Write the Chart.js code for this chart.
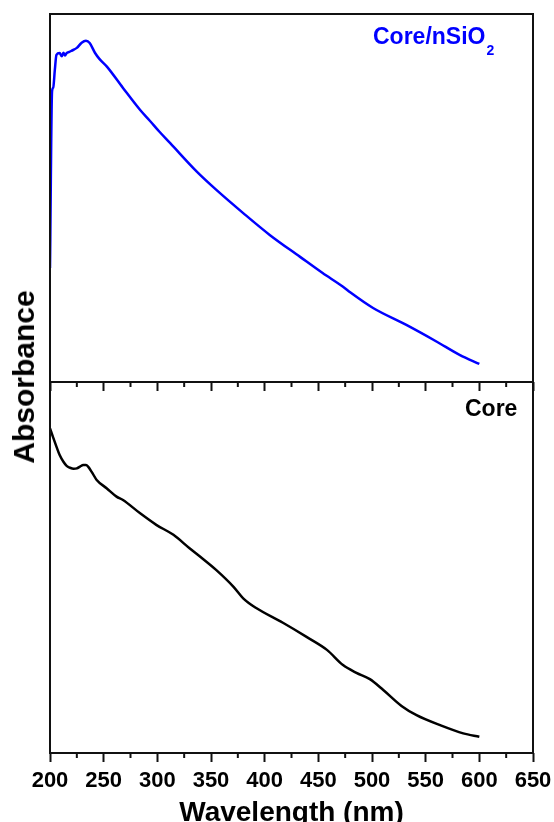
<!DOCTYPE html>
<html>
<head>
<meta charset="utf-8">
<script src="https://cdn.jsdelivr.net/npm/chart.js@4.4.1/dist/chart.umd.min.js"></script>
<style>
    html, body { margin: 0; padding: 0; background: #fff; overflow: hidden; }
    #wrap { position: relative; width: 554px; height: 822px; overflow: hidden; }
    canvas { position: absolute; left: 0; }
    #topChart { top: 0; }
    #bottomChart { top: 382px; }
    #ylabel {
        position: absolute;
        left: 24px;
        top: 377px;
        transform: translate(-50%, -50%) rotate(-90deg);
        font: bold 30px "Liberation Sans", Arial, sans-serif;
        line-height: 1;
        white-space: nowrap;
        color: #000;
    }
</style>
</head>
<body>
<div id="wrap">
    <canvas id="topChart" width="554" height="391"></canvas>
    <canvas id="bottomChart" width="564" height="448"></canvas>
    <div id="ylabel">Absorbance</div>
</div>
<script>
// wavelength axis (nm)
const xMin = 200;
const xMax = 650;
const xStep = 50;

// Core/nSiO2 spectrum (arbitrary absorbance units)
const siO2Wavelengths = [200, 201.9, 203, 204.5, 206, 209, 211, 212.5, 214, 215.5, 218, 220, 225, 229.5, 233.5, 237, 242, 246, 253, 268, 284, 293, 302, 312, 337, 355, 380, 405, 433, 454, 473, 480, 501, 532, 560, 582, 600];
const siO2Absorbance = [0.31, 0.79, 0.80, 0.848, 0.889, 0.894, 0.885, 0.895, 0.887, 0.894, 0.897, 0.900, 0.908, 0.922, 0.927, 0.921, 0.894, 0.878, 0.857, 0.799, 0.739, 0.710, 0.680, 0.649, 0.571, 0.522, 0.459, 0.399, 0.340, 0.296, 0.259, 0.243, 0.201, 0.155, 0.110, 0.073, 0.049];

// Core spectrum (arbitrary absorbance units)
const coreWavelengths = [200, 203, 206, 209, 212.5, 215.5, 218.5, 222, 225, 228, 231, 233.5, 235.5, 239, 243.5, 253, 262, 268, 284, 299, 315, 330, 340, 355, 371, 380, 392.5, 417, 439, 458, 473, 485.5, 498, 510.5, 527.5, 541.5, 563.5, 585, 600];
const coreAbsorbance = [0.875, 0.850, 0.826, 0.803, 0.785, 0.774, 0.769, 0.766, 0.767, 0.772, 0.776, 0.776, 0.772, 0.757, 0.736, 0.713, 0.691, 0.682, 0.646, 0.615, 0.588, 0.552, 0.529, 0.493, 0.448, 0.417, 0.390, 0.351, 0.313, 0.278, 0.237, 0.216, 0.199, 0.170, 0.127, 0.102, 0.075, 0.053, 0.044];

Chart.defaults.font.family = "'Liberation Sans', Arial, sans-serif";
Chart.defaults.color = "#000";

const toPoints = (xs, ys) => xs.map((x, i) => ({ x, y: ys[i] }));

// box around the plot area + short minor ticks between the labelled ones
const framePlugin = {
    id: "frame",
    afterDraw(chart, args, opts) {
        const { ctx, chartArea: { left, top, right, bottom }, scales: { x } } = chart;
        ctx.save();
        ctx.strokeStyle = "#111";
        ctx.lineWidth = 2;
        ctx.strokeRect(left, top, right - left, bottom - top);
        for (let v = xMin + xStep / 2; v < xMax; v += xStep) {
            const px = x.getPixelForValue(v);
            ctx.beginPath();
            ctx.moveTo(px, bottom);
            ctx.lineTo(px, bottom + 5);
            ctx.stroke();
        }
        // curve label
        if (opts.text) {
            ctx.fillStyle = opts.color;
            ctx.font = "bold 23px 'Liberation Sans', Arial, sans-serif";
            ctx.textBaseline = "alphabetic";
            ctx.fillText(opts.text, opts.x, opts.y);
            if (opts.sub) {
                const w = ctx.measureText(opts.text).width;
                ctx.font = "bold 14px 'Liberation Sans', Arial, sans-serif";
                ctx.fillText(opts.sub, opts.x + w + 1, opts.y + 11);
            }
        }
        ctx.restore();
    },
};

const xScale = (showLabels, axisHeight) => ({
    type: "linear",
    min: xMin,
    max: xMax,
    border: { display: false },
    grid: {
        drawOnChartArea: false,
        drawTicks: true,
        tickLength: 9,
        tickWidth: 2,
        tickColor: "#111",
    },
    ticks: {
        display: showLabels,
        stepSize: xStep,
        autoSkip: false,
        maxRotation: 0,
        padding: 6,
        font: { size: 22, weight: "bold" },
        color: "#000",
    },
    title: {
        display: showLabels,
        text: "Wavelength (nm)",
        font: { size: 28, weight: "bold" },
        color: "#000",
        padding: { top: 0, bottom: 0 },
    },
    afterFit(scale) {
        scale.height = axisHeight;
    },
});

const yScale = {
    display: false,
    min: 0,
    max: 1,
};

const common = {
    responsive: false,
    animation: false,
    plugins: {
        legend: { display: false },
        tooltip: { enabled: false },
    },
    elements: { point: { radius: 0 } },
};

// -----------------------
// Core/nSiO2 (top panel)
// -----------------------
new Chart(document.getElementById("topChart"), {
    type: "line",
    data: {
        datasets: [
            {
                data: toPoints(siO2Wavelengths, siO2Absorbance),
                borderColor: "#0000ff",
                borderWidth: 2.5,
                cubicInterpolationMode: "monotone",
                fill: false,
            },
        ],
    },
    options: {
        ...common,
        layout: { padding: { left: 50, right: 21, top: 14, bottom: 0 } },
        plugins: {
            ...common.plugins,
            frame: { text: "Core/nSiO", sub: "2", color: "#0000ff", x: 373, y: 44 },
        },
        scales: { x: xScale(false, 9), y: yScale },
    },
    plugins: [framePlugin],
});

// -----------------------
// Core (bottom panel)
// -----------------------
new Chart(document.getElementById("bottomChart"), {
    type: "line",
    data: {
        datasets: [
            {
                data: toPoints(coreWavelengths, coreAbsorbance),
                borderColor: "#000",
                borderWidth: 2.5,
                cubicInterpolationMode: "monotone",
                fill: false,
            },
        ],
    },
    options: {
        ...common,
        layout: { padding: { left: 50, right: 31, top: 0, bottom: 0 } },
        plugins: {
            ...common.plugins,
            frame: { text: "Core", color: "#000", x: 465, y: 34 },
        },
        scales: { x: xScale(true, 77), y: yScale },
    },
    plugins: [framePlugin],
});
</script>
</body>
</html>
